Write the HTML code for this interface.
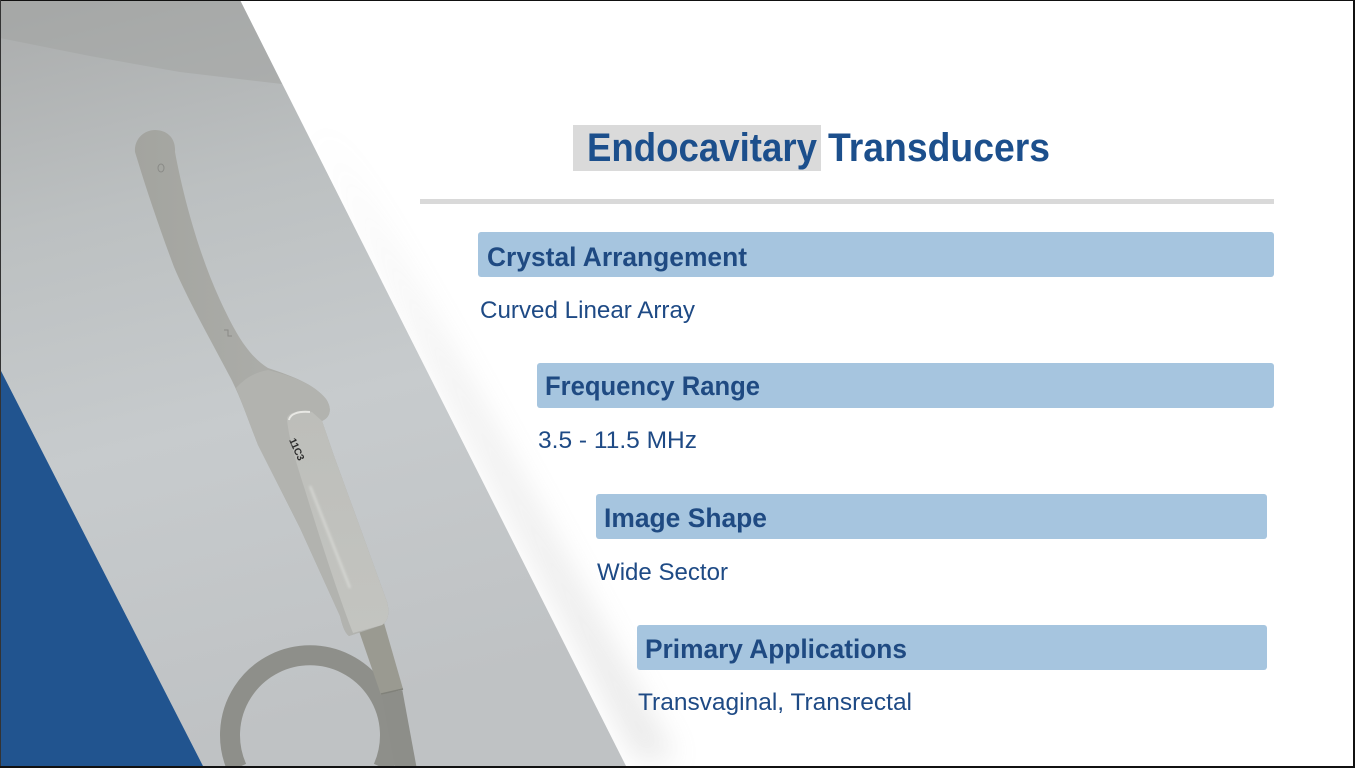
<!DOCTYPE html>
<html>
<head>
<meta charset="utf-8">
<style>
  html,body{margin:0;padding:0;background:#fff;}
  body{width:1355px;height:768px;overflow:hidden;position:relative;}
  svg{position:absolute;left:0;top:0;display:block;overflow:hidden;}
  .t{font-family:"Liberation Sans",Arial,sans-serif;}
</style>
</head>
<body>
<svg width="1355" height="768" viewBox="0 0 1355 768" xmlns="http://www.w3.org/2000/svg">
  <defs>
    <linearGradient id="grayBg" x1="0" y1="0" x2="0.2" y2="1">
      <stop offset="0" stop-color="#aaacac"/>
      <stop offset="0.3" stop-color="#bcc0c1"/>
      <stop offset="0.6" stop-color="#c7cbcd"/>
      <stop offset="1" stop-color="#bfc2c4"/>
    </linearGradient>
    <linearGradient id="shaftG" x1="0" y1="0" x2="1" y2="0">
      <stop offset="0" stop-color="#a3a49f"/>
      <stop offset="0.5" stop-color="#abaca8"/>
      <stop offset="1" stop-color="#a6a7a2"/>
    </linearGradient>
    <linearGradient id="faceG" x1="0" y1="0" x2="0" y2="1">
      <stop offset="0" stop-color="#bdbeba"/>
      <stop offset="1" stop-color="#c3c4c0"/>
    </linearGradient>
    <linearGradient id="shadowG" x1="0" y1="0" x2="0" y2="1">
      <stop offset="0" stop-color="#a0a0a0" stop-opacity="0"/>
      <stop offset="0.4" stop-color="#a0a0a0" stop-opacity="0.6"/>
      <stop offset="1" stop-color="#a0a0a0" stop-opacity="1"/>
    </linearGradient>
    <filter id="blur14" x="-30%" y="-10%" width="160%" height="120%"><feGaussianBlur stdDeviation="14"/></filter>
    <filter id="blur2"><feGaussianBlur stdDeviation="1.2"/></filter>
  </defs>

  <rect x="0" y="0" width="1355" height="768" fill="#ffffff"/>

  <!-- subtle shadow on white side along the diagonal -->
  <polygon points="300,120 636,760 676,760 330,120" fill="url(#shadowG)" opacity="0.22" filter="url(#blur14)"/>

  <!-- gray photo region -->
  <polygon points="0,0 240,0 627,768 0,768" fill="url(#grayBg)"/>
  <!-- darker top band -->
  <polygon points="0,0 240,0 282,84 180,72 90,56 0,38" fill="#a2a4a3" opacity="0.55"/>

  <!-- blue triangle -->
  <polygon points="0,369 204,768 0,768" fill="#21548f"/>

  <!-- cable loop -->
  <path d="M383,768 A80 80 0 1 0 237,768" fill="none" stroke="#8e8f8a" stroke-width="20"/>
  <!-- cable going down -->
  <path d="M392,692 C397,720 402,745 406,768" fill="none" stroke="#8d8e89" stroke-width="21"/>

  <!-- strain relief -->
  <polygon points="359,631 384,623 403,689 381,695" fill="#9a9a91"/>
  <line x1="381" y1="694" x2="403" y2="689" stroke="#80817a" stroke-width="1.5"/>

  <!-- probe body -->
  <path d="M135,152 C134,139 144,130 155,130 C167,130 176,138 175,152 C182,190 197,250 220,300 C234,330 247,355 268,368 C292,376 314,384 326,399 C332,408 331,417 322,421 L334,456 L361,530 L387,602 C390,613 388,621 382,625 L349,636 C344,632 342,624 340,616 L300,528 L258,445 C250,425 240,395 229,375 C208,335 188,300 174,267 C162,235 148,195 135,152 Z" fill="url(#shaftG)"/>
  <!-- handle side -->
  <path d="M236,388 C245,378 256,372 268,370 C292,376 314,384 326,399 C332,408 331,417 322,421 L334,456 L361,530 L387,602 C390,613 388,621 382,625 L349,636 C344,632 342,624 340,616 L300,528 L258,445 C250,425 243,405 236,388 Z" fill="#b2b3af"/>
  <!-- front face -->
  <path d="M287,418 C289,412 298,410 312,412 L322,421 L334,456 L361,530 L387,602 C390,613 388,621 382,625 L353,633 C340,600 322,545 305,490 C296,462 288,436 287,418 Z" fill="url(#faceG)"/>
  <path d="M289,420 C290,414 298,411 310,412" stroke="#ecece9" stroke-width="2" fill="none" opacity="0.9"/>
  <path d="M310,486 L350,588" stroke="#e4e5e1" stroke-width="2" opacity="0.7" filter="url(#blur2)"/>
  <!-- marks -->
  <ellipse cx="161" cy="168" rx="3" ry="4" fill="none" stroke="#8a8b87" stroke-width="1"/>
  <path d="M224,330 L228,330 L228,336 L232,336" fill="none" stroke="#8a8b87" stroke-width="1"/>
  <text x="289" y="440" transform="rotate(66 289 440)" class="t" font-size="10" font-weight="bold" fill="#2a2a2a">11C3</text>

  <!-- Title -->
  <rect x="573" y="125" width="248" height="46" fill="#dadada"/>
  <text x="587" y="161" class="t" font-size="40" font-weight="bold" fill="#1c4f8c" textLength="230" lengthAdjust="spacingAndGlyphs">Endocavitary</text>
  <text x="828" y="161" class="t" font-size="40" font-weight="bold" fill="#1c4f8c" textLength="222" lengthAdjust="spacingAndGlyphs">Transducers</text>

  <!-- rule -->
  <rect x="420" y="199" width="854" height="5" fill="#d9d9d9"/>

  <!-- boxes -->
  <rect x="478" y="232" width="796" height="45" rx="3" fill="#a6c5df"/>
  <text x="487" y="266" class="t" font-size="26.5" font-weight="bold" fill="#1f4a82" textLength="260" lengthAdjust="spacingAndGlyphs">Crystal Arrangement</text>
  <text x="480" y="318" class="t" font-size="24" fill="#1e4a85" textLength="215" lengthAdjust="spacingAndGlyphs">Curved Linear Array</text>

  <rect x="537" y="363" width="737" height="45" rx="3" fill="#a6c5df"/>
  <text x="545" y="395" class="t" font-size="26.5" font-weight="bold" fill="#1f4a82" textLength="215" lengthAdjust="spacingAndGlyphs">Frequency Range</text>
  <text x="538" y="448" class="t" font-size="24" fill="#1e4a85" textLength="159" lengthAdjust="spacingAndGlyphs">3.5 - 11.5 MHz</text>

  <rect x="596" y="494" width="671" height="45" rx="3" fill="#a6c5df"/>
  <text x="604" y="527" class="t" font-size="26.5" font-weight="bold" fill="#1f4a82" textLength="163" lengthAdjust="spacingAndGlyphs">Image Shape</text>
  <text x="597" y="580" class="t" font-size="24" fill="#1e4a85" textLength="131" lengthAdjust="spacingAndGlyphs">Wide Sector</text>

  <rect x="637" y="625" width="630" height="45" rx="3" fill="#a6c5df"/>
  <text x="645" y="658" class="t" font-size="26.5" font-weight="bold" fill="#1f4a82" textLength="262" lengthAdjust="spacingAndGlyphs">Primary Applications</text>
  <text x="638" y="710" class="t" font-size="24" fill="#1e4a85" textLength="274" lengthAdjust="spacingAndGlyphs">Transvaginal, Transrectal</text>

  <!-- frame border -->
  <rect x="0" y="0" width="1355" height="1" fill="#111"/>
  <rect x="0" y="0" width="1" height="768" fill="#333"/>
  <rect x="1353" y="0" width="2" height="768" fill="#111"/>
  <rect x="0" y="766" width="1355" height="2" fill="#111"/>
</svg>
</body>
</html>
